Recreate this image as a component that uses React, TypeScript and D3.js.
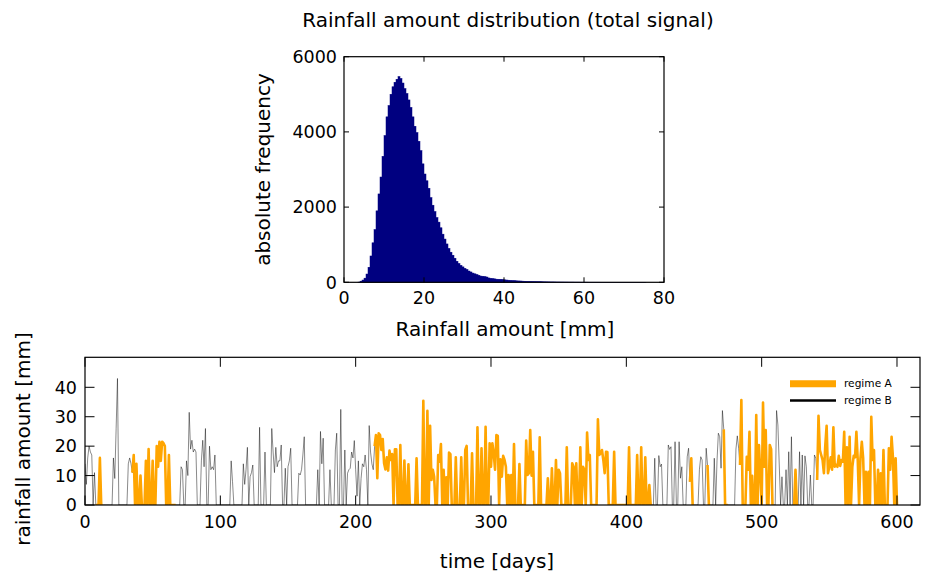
import React from "react";
import * as d3 from "d3";

// ---------- Histogram data (bin width 0.5 mm, starting at 0 mm) ----------
const HIST_BIN_WIDTH = 0.5;
const histCounts: number[] = [
  0, 0, 0, 0, 0, 0, 0, 5, 30, 60,
  110, 220, 400, 700, 1050, 1400, 1900, 2350, 2800, 3350,
  3900, 4400, 4700, 5000, 5200, 5320, 5400, 5470, 5420, 5300,
  5150, 5020, 4850, 4650, 4400, 4150, 3980, 3750, 3500, 3150,
  2880, 2700, 2500, 2250, 2050, 1880, 1720, 1600, 1450, 1280,
  1150, 1020, 900, 800, 720, 640, 560, 500, 450, 410,
  370, 340, 300, 275, 245, 225, 205, 185, 165, 160,
  150, 140, 115, 105, 97, 90, 82, 80, 78, 72,
  65, 60, 55, 50, 45, 42, 38, 36, 34, 30,
  28, 26, 25, 24, 22, 20, 18, 17, 16, 14,
  13, 12, 11, 10, 10, 9, 8, 8, 7, 7,
  6, 6, 5, 5, 5, 4, 4, 4, 3, 3,
  3, 3, 2, 2, 2, 2, 2, 2, 1, 1,
  1, 1, 1, 1, 1, 1, 1, 1, 1, 1,
  1, 1, 1, 1, 1, 1, 1, 1, 1, 1,
  1,
];
const histXTicks = [0, 20, 40, 60, 80];
const histYTicks = [0, 2000, 4000, 6000];

// ---------- Daily rainfall series (day 0 .. 600) ----------
const rainfall: number[] = [
  14, 7, 16, 20, 18, 17, 0, 11, 0, 0,
  0, 16, 0, 0, 0, 0, 0, 0, 0, 0,
  0, 16, 9, 26, 43, 0, 0, 0, 0, 0,
  0, 0, 14, 16, 14, 11, 17, 0, 14, 0,
  0, 10, 0, 0, 0, 15, 0, 19, 0, 0,
  15, 0, 0, 20, 13, 21.5, 15, 21.5, 21, 20,
  0, 0, 17, 0, 0, 0, 0, 0, 0, 0,
  0, 13, 12, 0, 0, 15, 10, 31.5, 19, 22,
  18, 19, 18, 0, 0, 0, 15, 22, 13, 26,
  0, 0, 20, 12, 13, 12, 17, 0, 0, 0,
  0, 0, 0, 0, 0, 0, 0, 0, 15, 8,
  0, 0, 0, 0, 0, 0, 0, 14, 7, 12,
  19.6, 0, 9.6, 11, 13.6, 0, 0, 0, 0, 26.4,
  0, 0, 0, 18, 0, 0, 0, 0, 26, 18,
  11, 19.6, 13, 15, 15, 20.4, 0, 0, 12.5, 0,
  13, 15, 19.3, 0, 0, 0, 0, 0, 10.8, 10.2,
  12, 17, 23.2, 0, 0, 0, 0, 0, 0, 0,
  0, 0, 12, 0, 25, 14, 22.7, 0, 0, 0,
  0, 12, 0, 0, 0, 18.7, 24.4, 0, 0, 32.5,
  0, 0, 18.7, 0, 10.8, 12, 12.5, 18, 16, 21.9,
  12, 3, 15, 0, 9, 14, 13, 17, 12, 0,
  27, 18, 14, 12, 20, 23.8, 9.1, 24.4, 23.8, 18.7,
  22.4, 14.2, 12.1, 16.2, 11.7, 18.5, 15.3, 17.3, 0, 18.9,
  18.9, 0, 0, 20.4, 0, 0, 15.1, 0, 0, 13.8,
  0, 0, 0, 0, 0, 15.9, 0, 0, 0, 0,
  35.4, 0, 0, 32, 0, 26.9, 8.5, 12, 9.6, 0,
  0, 17, 14.7, 20.7, 0, 12, 0, 9.4, 0, 17.8,
  17.3, 0, 0, 0, 16.2, 0, 0, 0, 16.2, 0,
  0, 18.7, 20.1, 0, 0, 0, 17.6, 0, 0, 0,
  26.4, 0, 0, 19.3, 0, 0, 26.6, 0, 0, 21,
  13, 21, 17.6, 12, 23.8, 23.5, 0, 15.5, 9.6, 16.7,
  15.3, 13, 0, 10.2, 0, 10.2, 0, 20.7, 0, 0,
  0, 13.9, 0, 0, 0, 0, 21.9, 10.2, 10.8, 25.5,
  10, 18.1, 0, 0, 0, 0, 23, 0, 0, 0,
  0, 0, 9.1, 0, 0, 12.5, 0, 0, 15.3, 0,
  12, 10.8, 0, 0, 0, 0, 19.6, 0, 0, 0,
  14.2, 13, 0, 14.2, 0, 0, 19.6, 0, 13, 12,
  0, 24.6, 15.3, 17, 0, 0, 0, 0, 0, 29.1,
  17, 17.6, 18.7, 15.3, 10.8, 18.1, 18, 0, 0, 0,
  0, 18.1, 0, 0, 0, 0, 0, 0, 0, 0,
  0, 0, 19.6, 0, 0, 0, 0, 0, 17, 0,
  0, 19.6, 0, 0, 16.2, 0, 0, 6.8, 0, 0,
  0, 15.9, 0, 0, 16.8, 13, 13.9, 0, 0, 0,
  0, 20.4, 18.9, 19.8, 0, 0, 21.5, 0, 0, 21.5,
  9.1, 13, 0, 0, 0, 16.4, 19.3, 7.9, 15.9, 0,
  0, 0, 0, 0, 12, 16.4, 15.3, 0, 0, 19.3,
  13.6, 0, 0, 0, 0, 15.9, 0, 15, 24.4, 23.2,
  12.5, 32.1, 25.7, 0, 0, 0, 0, 0, 0, 0,
  0, 19, 23.5, 19.3, 13.6, 35.7, 0, 0, 0, 16.4,
  12, 24.9, 0, 9.9, 0, 0, 30.6, 0, 20.4, 10.8,
  0, 34.8, 13, 25.5, 0, 0, 20.4, 19, 0, 0,
  0, 32.1, 27.2, 13.6, 0, 9.6, 0, 0, 12, 0,
  18.1, 0, 23.2, 0, 0, 12, 0, 0, 18.1, 0,
  17, 0, 16.7, 13, 0, 0, 10.2, 0, 0, 17,
  15.9, 8.5, 30.3, 18.7, 17, 15.3, 10.8, 20.1, 26.9, 10.8,
  13, 16.2, 12, 26.4, 13, 13.6, 13, 16.7, 13.3, 15.3,
  14.7, 24.9, 0, 19.6, 0, 23.2, 0, 13, 16.7, 16.2,
  24.9, 15.3, 0, 15.9, 21.5, 15.9, 0, 11.3, 0, 11.3,
  0, 30, 15.3, 18.7, 0, 0, 12, 0, 10.8, 0,
  18.7, 0, 0, 0, 19.3, 12, 23.2, 16.2, 0, 15.9,
  0,
];
// regime A spans (inclusive day indices); everything else is regime B
const regimeAStart = [8, 35, 214, 447, 460, 472, 484, 524, 541];
const regimeAEnd = [13, 67, 418, 450, 462, 475, 508, 526, 600];
const tsXTicks = [0, 100, 200, 300, 400, 500, 600];
const tsYTicks = [0, 10, 20, 30, 40];
const legendLabels = ["regime A", "regime B"];

const FONT = "'DejaVu Sans', sans-serif";
const ORANGE = "#FFA500";
const NAVY = "#000080";

export default function App() {
  const W = 928;
  const H = 575;

  // histogram panel
  const hL = 344, hR = 664, hT = 56.7, hB = 282.3;
  const hx = d3.scaleLinear().domain([0, 80]).range([hL, hR]);
  const hy = d3.scaleLinear().domain([0, 6000]).range([hB, hT]);

  // time-series panel
  const tL = 85, tR = 920, tT = 357.3, tB = 505;
  const tx = d3.scaleLinear().domain([0, 617]).range([tL, tR]);
  const ty = d3.scaleLinear().domain([0, 50.2]).range([tB, tT]);

  const inA = (i: number) =>
    regimeAStart.some((s, k) => i >= s && i <= regimeAEnd[k]);

  const lineAll = d3
    .line<number>()
    .x((_, i) => tx(i))
    .y((d) => ty(d));
  const lineA = d3
    .line<number>()
    .defined((_, i) => inA(i))
    .x((_, i) => tx(i))
    .y((d) => ty(d));

  const bw = hx(HIST_BIN_WIDTH) - hx(0);
  const hTick = 5;
  const tTick = 9.5;

  return (
    <svg
      width={W}
      height={H}
      style={{ position: "absolute", left: 0, top: 0, display: "block", background: "#fff" }}
      fontFamily={FONT}
    >
      <defs>
        <clipPath id="tsclip">
          <rect x={tL} y={tT} width={tR - tL} height={tB - tT} />
        </clipPath>
      </defs>

      {/* Title */}
      <text x={508} y={27} fontSize={20} textAnchor="middle" fill="#000">
        Rainfall amount distribution (total signal)
      </text>

      {/* ---------- Histogram ---------- */}
      <g>
        {histCounts.map((c, i) =>
          c > 0 ? (
            <rect
              key={i}
              x={hx(i * HIST_BIN_WIDTH)}
              y={hy(c)}
              width={bw}
              height={hB - hy(c)}
              fill={NAVY}
              stroke={NAVY}
              strokeWidth={0.5}
            />
          ) : null
        )}
        <rect x={hL} y={hT} width={hR - hL} height={hB - hT} fill="none" stroke="#000" strokeWidth={1.2} />
        {histXTicks.map((t) => (
          <g key={"hx" + t}>
            <line x1={hx(t)} x2={hx(t)} y1={hB} y2={hB - hTick} stroke="#000" strokeWidth={1} />
            <line x1={hx(t)} x2={hx(t)} y1={hT} y2={hT + hTick} stroke="#000" strokeWidth={1} />
            <text x={hx(t)} y={303.5} fontSize={17.5} textAnchor="middle">
              {t}
            </text>
          </g>
        ))}
        {histYTicks.map((t) => (
          <g key={"hy" + t}>
            <line x1={hL} x2={hL + hTick} y1={hy(t)} y2={hy(t)} stroke="#000" strokeWidth={1} />
            <line x1={hR} x2={hR - hTick} y1={hy(t)} y2={hy(t)} stroke="#000" strokeWidth={1} />
            <text x={337} y={hy(t) + 6.3} fontSize={17.5} textAnchor="end">
              {t}
            </text>
          </g>
        ))}
        <text x={505} y={336} fontSize={20} textAnchor="middle">
          Rainfall amount [mm]
        </text>
        <text
          transform={`translate(270,${(hT + hB) / 2}) rotate(-90)`}
          fontSize={20}
          textAnchor="middle"
        >
          absolute frequency
        </text>
      </g>

      {/* ---------- Time series ---------- */}
      <g clipPath="url(#tsclip)">
        <path d={lineAll(rainfall) || ""} fill="none" stroke="#000" strokeOpacity={0.55} strokeWidth={0.85} />
        <path
          d={lineA(rainfall) || ""}
          fill="none"
          stroke={ORANGE}
          strokeWidth={2.6}
          strokeLinejoin="round"
        />
      </g>
      <rect x={tL} y={tT} width={tR - tL} height={tB - tT} fill="none" stroke="#000" strokeWidth={1.2} />
      {tsXTicks.map((t) => (
        <g key={"tx" + t}>
          <line x1={tx(t)} x2={tx(t)} y1={tB} y2={tB - tTick} stroke="#000" strokeWidth={1} />
          <line x1={tx(t)} x2={tx(t)} y1={tT} y2={tT + tTick} stroke="#000" strokeWidth={1} />
          <text x={tx(t)} y={527.5} fontSize={17.5} textAnchor="middle">
            {t}
          </text>
        </g>
      ))}
      {tsYTicks.map((t) => (
        <g key={"ty" + t}>
          <line x1={tL} x2={tL + tTick} y1={ty(t)} y2={ty(t)} stroke="#000" strokeWidth={1} />
          <line x1={tR} x2={tR - tTick} y1={ty(t)} y2={ty(t)} stroke="#000" strokeWidth={1} />
          <text x={77} y={ty(t) + 6.3} fontSize={17.5} textAnchor="end">
            {t}
          </text>
        </g>
      ))}
      <text x={497} y={568} fontSize={20} textAnchor="middle">
        time [days]
      </text>
      <text transform={`translate(30,439) rotate(-90)`} fontSize={20} textAnchor="middle">
        rainfall amount [mm]
      </text>

      {/* Legend */}
      <g>
        <line x1={790} x2={836} y1={383.7} y2={383.7} stroke={ORANGE} strokeWidth={7} />
        <line x1={790} x2={836} y1={400.5} y2={400.5} stroke="#000" strokeWidth={2.5} />
        <text x={844} y={387} fontSize={10.6}>
          {legendLabels[0]}
        </text>
        <text x={844} y={403.5} fontSize={10.6}>
          {legendLabels[1]}
        </text>
      </g>
    </svg>
  );
}
